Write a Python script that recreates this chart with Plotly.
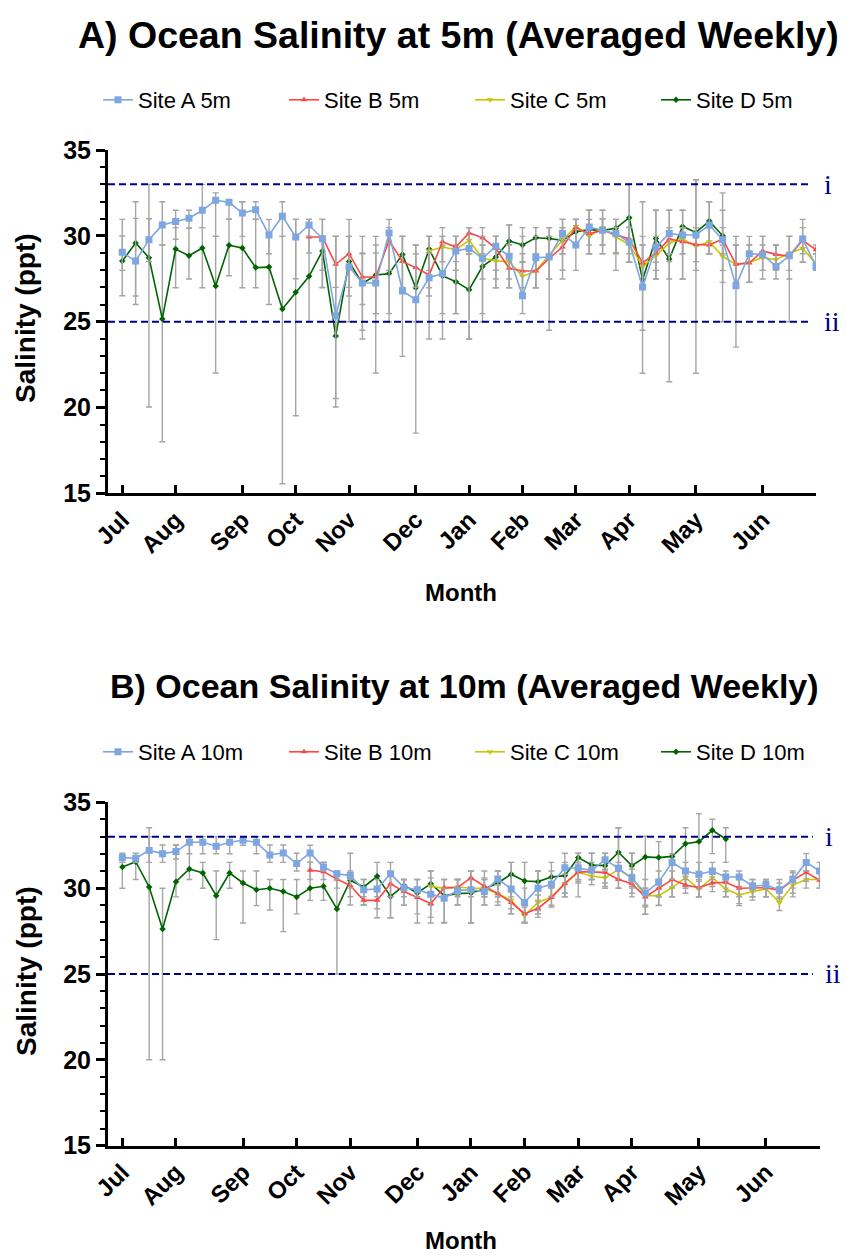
import plotly.graph_objects as go

W, H = 847, 1257

# ---------------- data ----------------
weeks = list(range(53))
month_ticks = [0, 4, 9, 13, 17, 22, 26, 30, 34, 38, 43, 48]
month_labels = ["Jul", "Aug", "Sep", "Oct", "Nov", "Dec", "Jan", "Feb", "Mar", "Apr", "May", "Jun"]
y_ticks = [15, 20, 25, 30, 35]
thresholds = [33, 25]
threshold_labels = ["i", "ii"]

# ---- 5 m ----
a5 = [29.04, 28.53, 29.78, 30.63, 30.83, 31.02, 31.49, 32.07, 31.95, 31.33,
      31.52, 30.05, 31.14, 29.93, 30.63, 29.83, 25.35, 28.18, 27.25, 27.25,
      30.17, 26.79, 26.28, 27.56, 27.80, 29.12, 29.27, 28.69, 29.39, 28.81,
      26.51, 28.73, 28.77, 30.13, 29.47, 30.51, 30.32, 30.13, 29.62, 27.02,
      29.35, 30.13, 30.05, 30.05, 30.63, 29.78, 27.10, 28.96, 28.92, 28.22,
      28.84, 29.82, 28.22]
a5_hi = [30.96, 31.99, 31.0, 31.99, 31.49, 31.49, 33.0, 32.5, 31.99, 31.99,
         31.99, 30.96, 31.99, 30.96, 30.96, 30.96, 29.97, 30.96, 29.97, 29.97,
         30.96, 29.97, 29.47, 29.97, 29.97, 29.97, 30.48, 29.97, 29.97, 30.63,
         29.97, 29.97, 30.48, 30.96, 30.96, 31.49, 31.49, 30.96, 33.0, 29.97,
         31.49, 31.49, 31.49, 33.27, 31.99, 32.5, 29.97, 29.97, 29.97, 29.47,
         29.97, 30.96, 28.96]
a5_lo = [27.99, 26.0, 28.5, 29.47, 29.8, 30.44, 30.48, 29.97, 30.97, 29.97,
         30.97, 28.96, 29.97, 27.5, 29.97, 27.0, 20.53, 25.0, 23.99, 22.01,
         25.0, 22.98, 18.51, 23.99, 23.99, 25.47, 23.99, 25.0, 26.98, 26.98,
         25.47, 26.98, 24.5, 27.49, 27.99, 28.96, 28.96, 27.99, 28.46, 22.0,
         27.49, 21.5, 27.49, 22.0, 28.96, 25.0, 23.52, 27.29, 27.49, 27.49,
         25.0, 28.46, 27.99]

b5 = [None] * 14 + [29.93, 29.93, 28.34, 28.96, 27.60, 27.60, 29.74, 28.50, 28.15, 27.72,
                    29.66, 29.35, 30.17, 29.89, 29.27, 28.11, 27.95, 27.95, 28.69, 29.35,
                    30.48, 30.13, 30.32, 30.05, 29.82, 28.42, 29.00, 29.82, 29.66, 29.50,
                    29.47, 29.82, 28.34, 28.42, 29.12, 28.92, 28.81, 29.74, 29.19]
b5_hi = [None] * 14 + [30.96, 30.96, 29.97, 29.97, 29.0, 29.0, 30.48, 29.97, 29.47, 29.0,
                       30.48, 29.97, 30.48, 30.48, 29.97, 29.5, 28.96, 28.96, 29.97, 30.48,
                       30.96, 31.49, 31.0, 30.48, 30.5, 29.47, 29.97, 30.48, 30.48, 30.48,
                       30.48, 30.48, 29.47, 29.47, 29.97, 29.47, 29.97, 30.48, 29.47]
b5_lo = [None] * 14 + [29.0, 28.0, 27.0, 27.0, 26.0, 25.47, 28.0, 27.0, 27.0, 26.5,
                       28.5, 28.0, 28.96, 28.96, 28.0, 26.98, 26.98, 26.98, 27.49, 28.0,
                       29.47, 28.96, 29.47, 29.0, 28.96, 26.98, 27.99, 28.96, 28.96, 28.5,
                       28.96, 28.96, 27.29, 27.29, 27.99, 27.99, 27.49, 28.96, 28.96]

c5 = [None] * 23 + [29.12, 29.35, 29.19, 29.74, 28.69, 28.54, 28.50, 27.64, 27.95, 28.88,
                    29.74, 30.55, 29.97, 30.48, 29.93, 29.50, 28.22, 28.84, 29.58, 29.82,
                    29.39, 29.66, 28.81, 28.34, 28.46, 28.73, 28.61, 29.00, 29.27, 28.38]
c5_hi = [None] * 23 + [29.97, 29.97, 29.97, 30.48, 29.47, 29.47, 29.47, 28.5, 28.96, 29.97,
                       30.48, 30.96, 30.96, 31.0, 30.48, 30.48, 29.47, 29.47, 30.48, 30.48,
                       30.48, 30.48, 29.47, 29.47, 29.47, 29.47, 29.47, 29.97, 29.97, 28.96]
c5_lo = [None] * 23 + [27.99, 28.5, 28.5, 28.96, 27.49, 27.49, 27.49, 26.5, 26.98, 27.49,
                       28.96, 29.47, 28.96, 29.47, 29.0, 28.46, 26.98, 27.49, 28.5, 28.96,
                       28.5, 28.96, 27.99, 27.29, 27.29, 27.99, 27.99, 27.99, 28.46, 27.99]

d5 = [28.53, 29.58, 28.73, 25.16, 29.23, 28.84, 29.29, 27.08, 29.45, 29.29,
      28.15, 28.18, 25.74, 26.71, 27.64, 29.12, 24.17, 28.50, 27.21, 27.72,
      27.80, 28.92, 26.98, 29.23, 27.68, 27.33, 26.86, 28.22, 28.77, 29.70,
      29.47, 29.89, 29.85, 29.74, 30.24, 30.36, 30.32, 30.44, 31.06, 27.45,
      29.85, 28.65, 30.55, 30.20, 30.86, 30.01] + [None] * 7
d5_hi = [29.99, 31.02, 33.0, 29.47, 30.48, 30.44, 30.48, 29.97, 30.97, 31.99,
         30.97, 29.97, 29.97, 30.96, 29.97, 29.97, 29.97, 29.97, 28.96, 29.47,
         29.47, 29.97, 28.96, 29.97, 29.47, 29.47, 28.96, 29.47, 29.97, 30.63,
         30.48, 30.48, 30.48, 30.96, 30.96, 31.49, 31.49, 30.96, 33.0, 31.99,
         31.49, 31.49, 31.49, 33.27, 31.99, 31.49] + [None] * 7
d5_lo = [26.51, 26.5, 20.03, 18.01, 26.98, 27.49, 26.98, 22.01, 27.68, 26.98,
         26.98, 26.0, 15.56, 19.52, 25.0, 26.98, 20.03, 26.5, 24.5, 25.47,
         25.47, 26.98, 25.0, 26.98, 25.47, 25.47, 23.99, 25.47, 26.98, 28.5,
         28.46, 28.96, 28.96, 28.96, 29.47, 29.47, 28.96, 28.96, 28.46, 24.5,
         28.46, 27.49, 27.49, 27.99, 28.96, 27.29] + [None] * 7

# ---- 10 m ----
a10 = [31.78, 31.74, 32.20, 32.01, 32.13, 32.67, 32.67, 32.44, 32.67, 32.79,
       32.67, 31.93, 32.05, 31.43, 32.05, 31.23, 30.84, 30.73, 29.91, 29.95,
       30.84, 30.03, 29.91, 29.64, 29.41, 29.87, 29.91, 29.80, 30.53, 29.95,
       29.17, 29.99, 30.22, 31.19, 31.16, 31.04, 31.66, 31.16, 30.57, 29.72,
       30.34, 31.50, 31.00, 30.81, 31.00, 30.65, 30.65, 30.11, 30.18, 29.91,
       30.50, 31.50, 31.00]
a10_hi = [32.03, 32.03, 33.52, 32.51, 32.51, 33.0, 33.0, 33.0, 33.0, 33.0,
          33.0, 32.51, 32.51, 32.03, 32.5, 31.5, 30.96, 32.03, 30.5, 30.5,
          31.5, 30.5, 30.5, 31.0, 30.0, 30.5, 31.0, 31.0, 31.0, 31.5,
          30.0, 31.0, 31.0, 32.03, 32.03, 32.03, 32.03, 33.52, 32.03, 30.5,
          31.0, 32.0, 31.5, 31.5, 31.5, 31.0, 31.0, 30.5, 30.5, 30.5,
          31.0, 32.01, 31.5]
a10_lo = [31.5, 31.5, 31.5, 31.5, 31.7, 32.0, 32.0, 32.0, 32.0, 32.5,
          32.0, 31.5, 31.5, 31.0, 31.5, 31.0, 30.5, 30.0, 29.5, 29.5,
          28.28, 29.5, 29.5, 27.97, 28.0, 29.02, 27.97, 29.02, 29.49, 28.51,
          28.0, 28.51, 29.49, 29.49, 29.49, 30.5, 31.0, 29.99, 29.49, 28.48,
          29.5, 30.5, 30.5, 30.0, 30.5, 29.5, 28.98, 29.49, 29.49, 29.49,
          29.49, 31.0, 30.5]

b10 = [None] * 14 + [31.04, 30.96, 30.53, 30.15, 29.29, 29.29, 30.26, 29.80, 29.45, 29.10,
                     30.03, 30.03, 30.61, 30.11, 29.68, 29.17, 28.51, 28.83, 29.45, 30.26,
                     30.96, 30.96, 30.92, 30.50, 30.26, 29.49, 29.99, 30.50, 30.18, 30.03,
                     30.30, 30.34, 29.99, 29.99, 30.03, 29.87, 30.46, 30.92, 30.46]
b10_hi = [None] * 14 + [31.5, 31.5, 31.0, 30.5, 29.8, 29.8, 30.96, 30.5, 30.0, 29.8,
                        30.5, 30.5, 31.0, 30.6, 30.2, 29.8, 29.0, 29.3, 30.0, 30.8,
                        31.5, 31.5, 31.5, 31.0, 30.8, 30.0, 30.5, 31.0, 30.7, 30.5,
                        30.8, 30.8, 30.5, 30.5, 30.5, 30.3, 30.9, 31.4, 30.9]
b10_lo = [None] * 14 + [30.5, 30.5, 30.0, 29.5, 29.02, 28.8, 29.5, 29.0, 28.5, 28.3,
                        29.3, 29.5, 30.0, 29.5, 29.0, 28.5, 28.0, 28.3, 28.9, 29.7,
                        30.3, 30.5, 30.3, 30.0, 29.7, 28.9, 29.5, 30.0, 29.7, 29.5,
                        29.8, 29.8, 29.5, 29.5, 29.5, 29.4, 30.0, 30.4, 30.0]

c10 = [None] * 23 + [30.11, 29.99, 30.07, 29.99, 29.99, 29.68, 29.29, 28.40, 29.17, 29.49,
                     30.26, 30.92, 30.69, 30.61, 31.08, 30.60, 29.56, 29.56, 30.03, 30.61,
                     29.95, 30.61, 29.95, 29.60, 29.80, 29.95, 29.17, 30.18, 30.50, 30.50]
c10_hi = [None] * 23 + [30.6, 30.5, 30.5, 30.5, 30.5, 30.2, 29.8, 28.9, 29.6, 30.0,
                        30.8, 31.4, 31.2, 31.1, 31.5, 31.1, 30.0, 30.0, 30.5, 31.1,
                        30.4, 31.1, 30.4, 30.1, 30.3, 30.4, 29.7, 30.7, 31.0, 31.0]
c10_lo = [None] * 23 + [29.6, 29.5, 29.6, 29.5, 29.5, 29.2, 28.8, 27.97, 28.7, 29.0,
                        29.7, 30.4, 30.2, 30.1, 30.5, 30.1, 29.0, 29.0, 29.5, 30.1,
                        29.5, 30.1, 29.5, 29.1, 29.3, 29.5, 28.7, 29.7, 30.0, 30.0]

d10 = [31.23, 31.54, 30.07, 27.62, 30.38, 31.12, 30.88, 29.56, 30.88, 30.30,
       29.91, 29.99, 29.80, 29.49, 29.99, 30.11, 28.79, 30.46, 30.07, 30.69,
       29.52, 30.15, 29.72, 30.26, 29.56, 29.68, 29.72, 29.95, 30.30, 30.81,
       30.42, 30.38, 30.65, 30.73, 31.78, 31.35, 31.31, 32.09, 31.31, 31.82,
       31.78, 31.85, 32.59, 32.71, 33.37, 32.86] + [None] * 7
d10_hi = [31.5, 31.8, 33.0, 29.99, 32.51, 33.0, 31.5, 31.0, 31.5, 31.0,
          31.0, 30.5, 30.5, 30.5, 31.5, 31.5, 30.5, 31.0, 30.5, 31.5,
          30.96, 30.5, 30.5, 31.0, 29.99, 30.5, 30.5, 30.5, 31.0, 31.5,
          31.5, 31.0, 31.5, 31.5, 32.03, 32.03, 32.03, 33.52, 32.03, 33.02,
          32.71, 33.02, 33.52, 34.34, 34.01, 33.52] + [None] * 7
d10_lo = [29.99, 30.5, 20.01, 20.01, 29.49, 30.5, 29.99, 27.0, 29.99, 27.97,
          28.98, 28.73, 27.47, 28.5, 29.29, 29.29, 25.0, 29.02, 29.02, 28.28,
          28.28, 29.0, 27.97, 29.0, 27.97, 29.02, 27.97, 29.02, 29.49, 29.49,
          28.0, 28.51, 29.49, 29.49, 30.5, 30.5, 29.99, 30.5, 30.0, 28.48,
          28.98, 29.49, 29.99, 29.49, 32.01, 31.5] + [None] * 7

# ---------------- styling ----------------
FONT = "Liberation Sans, Arial, sans-serif"
SERIF = "Liberation Serif, Times New Roman, serif"
NAVY = "#000088"
GREY = "#A5A5A5"

series_style = {
    "A": dict(color="#7EA6E0", symbol="square", size=7),
    "B": dict(color="#FF4545", symbol="triangle-up", size=6),
    "C": dict(color="#C8C800", symbol="triangle-down", size=6),
    "D": dict(color="#006400", symbol="diamond", size=5),
}


def px_x(p):
    return p / W


def px_y(p):
    return 1 - p / H


def err_plus(mean, hi):
    return [(h - m) if m is not None else 0 for m, h in zip(mean, hi)]


def err_minus(mean, lo):
    return [(m - l) if m is not None else 0 for m, l in zip(mean, lo)]


fig = go.Figure()

panels = [
    dict(suffix="5m", xa="x", ya="y", legend="legend",
         data={"A": (a5, a5_hi, a5_lo), "B": (b5, b5_hi, b5_lo),
               "C": (c5, c5_hi, c5_lo), "D": (d5, d5_hi, d5_lo)}),
    dict(suffix="10m", xa="x2", ya="y2", legend="legend2",
         data={"A": (a10, a10_hi, a10_lo), "B": (b10, b10_hi, b10_lo),
               "C": (c10, c10_hi, c10_lo), "D": (d10, d10_hi, d10_lo)}),
]

for p in panels:
    for key in ["D", "C", "B", "A"]:
        mean, hi, lo = p["data"][key]
        st = series_style[key]
        fig.add_trace(go.Scatter(
            x=weeks, y=mean, mode="lines+markers",
            name=f"Site {key} {p['suffix']}",
            xaxis=p["xa"], yaxis=p["ya"], legend=p["legend"],
            line=dict(color=st["color"], width=1.6),
            marker=dict(color=st["color"], symbol=st["symbol"], size=st["size"]),
            connectgaps=False,
            error_y=dict(type="data", symmetric=False,
                         array=err_plus(mean, hi), arrayminus=err_minus(mean, lo),
                         color=GREY, thickness=1.4, width=3),
        ))

axis_common_x = dict(
    tickvals=month_ticks, ticktext=month_labels, tickangle=-45,
    ticks="inside", ticklen=8, tickwidth=3, tickcolor="black",
    showline=True, linewidth=3, linecolor="black",
    showgrid=False, zeroline=False, automargin=False,
    tickfont=dict(family=FONT, size=24, color="black", weight="bold"),
)
axis_common_y = dict(
    range=[15, 35], tickvals=y_ticks,
    ticks="outside", ticklen=9, tickwidth=3, tickcolor="black",
    minor=dict(dtick=1, ticks="outside", ticklen=5, tickwidth=2, tickcolor="black"),
    showline=True, linewidth=3, linecolor="black",
    showgrid=False, zeroline=False, automargin=False,
    tickfont=dict(family=FONT, size=25, color="black", weight="bold"),
)

legend_common = dict(orientation="h", xanchor="left", yanchor="middle",
                     traceorder="reversed", entrywidth=141,
                     font=dict(family=FONT, size=22, color="black"),
                     bgcolor="rgba(0,0,0,0)")

fig.update_layout(
    width=W, height=H, autosize=False,
    margin=dict(l=0, r=0, t=0, b=0, pad=0, autoexpand=False),
    paper_bgcolor="white", plot_bgcolor="white",
    xaxis=dict(domain=[px_x(108), px_x(816)], range=[-1.07, 52.0], anchor="y", **axis_common_x),
    yaxis=dict(domain=[px_y(493.4), px_y(150)], anchor="x", **axis_common_y),
    xaxis2=dict(domain=[px_x(108), px_x(820)], range=[-1.07, 52.03], anchor="y2", **axis_common_x),
    yaxis2=dict(domain=[px_y(1145.7), px_y(802.3)], anchor="x2", **axis_common_y),
    legend=dict(x=px_x(98), y=px_y(100), **legend_common),
    legend2=dict(x=px_x(98), y=px_y(752), **legend_common),
    showlegend=True,
)

# threshold lines and labels
for xa, ya, xend, lab_x in [("x", "y", 0.994, 822), ("x2", "y2", 0.99, 823)]:
    for val, lab in zip(thresholds, threshold_labels):
        fig.add_shape(type="line", xref=f"{xa} domain", yref=ya,
                      x0=0, x1=xend, y0=val, y1=val,
                      line=dict(color=NAVY, width=2, dash="7px,4px"))
        fig.add_annotation(xref="paper", yref=ya, x=px_x(lab_x), y=val,
                           text=lab, showarrow=False, xanchor="left", yanchor="middle",
                           font=dict(family=SERIF, size=28, color=NAVY))

# titles and axis titles
texts = [
    ("A) Ocean Salinity at 5m (Averaged Weekly)", 458, 35, 37.5, 0),
    ("B) Ocean Salinity at 10m (Averaged Weekly)", 464, 686, 34, 0),
    ("Salinity (ppt)", 26, 318, 28, -90),
    ("Salinity (ppt)", 26, 971, 28, -90),
    ("Month", 461, 592, 24, 0),
    ("Month", 461, 1240, 24, 0),
]
for t, x, y, s, ang in texts:
    fig.add_annotation(xref="paper", yref="paper", x=px_x(x), y=px_y(y),
                       text=t, showarrow=False, xanchor="center", yanchor="middle",
                       textangle=ang,
                       font=dict(family=FONT, size=s, color="black", weight="bold"))

fig.write_html("out.html", config={"displayModeBar": False},
               post_script="document.body.style.margin='0px';")
